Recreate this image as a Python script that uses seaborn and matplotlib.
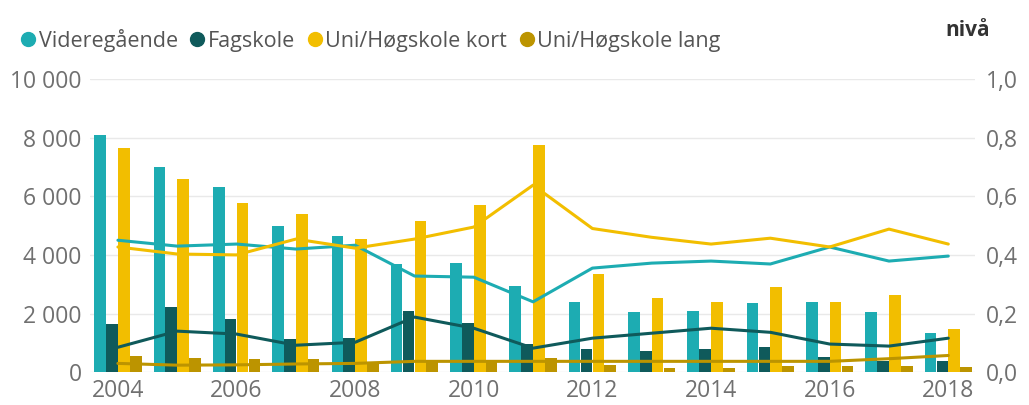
import matplotlib
matplotlib.use('Agg')
import matplotlib.pyplot as plt
from matplotlib.lines import Line2D
from matplotlib.ticker import FuncFormatter, MultipleLocator
import pandas as pd
import seaborn as sns

years = list(range(2004, 2019))
groups = ['Videregående', 'Fagskole', 'Uni/Høgskole kort', 'Uni/Høgskole lang']
colors = ['#1DACB2', '#0F5A5B', '#F2BE00', '#BC9400']

# antall (venstre akse)
vgs_antall = [8100, 7000, 6310, 4980, 4640, 3690, 3720, 2930, 2390, 2050, 2080, 2360, 2390, 2050, 1330]
fag_antall = [1640, 2220, 1810, 1130, 1160, 2080, 1670, 960, 790, 720, 790, 860, 510, 380, 380]
kort_antall = [7650, 6590, 5770, 5390, 4540, 5150, 5700, 7750, 3340, 2530, 2390, 2900, 2390, 2630, 1470]
lang_antall = [546, 480, 460, 440, 340, 350, 350, 480, 240, 140, 140, 200, 200, 200, 170]

# nivå (høyre akse)
vgs_niva = [0.45, 0.43, 0.437, 0.42, 0.433, 0.328, 0.324, 0.24, 0.355, 0.372, 0.379, 0.369, 0.427, 0.379, 0.396]
fag_niva = [0.085, 0.14, 0.13, 0.092, 0.102, 0.188, 0.15, 0.082, 0.116, 0.133, 0.15, 0.136, 0.096, 0.089, 0.116]
kort_niva = [0.427, 0.403, 0.40, 0.454, 0.423, 0.454, 0.495, 0.638, 0.49, 0.46, 0.437, 0.457, 0.427, 0.488, 0.437]
lang_niva = [0.03, 0.024, 0.025, 0.028, 0.03, 0.037, 0.037, 0.037, 0.037, 0.037, 0.037, 0.037, 0.037, 0.046, 0.057]

sns.set_style('white')
plt.rcParams['font.family'] = ['Open Sans', 'DejaVu Sans']

TEXT = '#707070'


def make_long(series, col):
    rows = []
    for g, vals in zip(groups, series):
        for y, v in zip(years, vals):
            rows.append({'year': y, 'gruppe': g, col: v})
    return pd.DataFrame(rows)


def main():
    bars = make_long([vgs_antall, fag_antall, kort_antall, lang_antall], 'antall')
    lines = make_long([vgs_niva, fag_niva, kort_niva, lang_niva], 'niva')

    fig = plt.figure(figsize=(10.29, 4.05), dpi=100)
    ax = fig.add_axes([0.0875, 0.081, 0.86, 0.724])

    sns.barplot(data=bars, x='year', y='antall', hue='gruppe', hue_order=groups,
                palette=colors, native_scale=True, width=0.8, gap=0.02,
                errorbar=None, legend=False, ax=ax, saturation=1, linewidth=0)

    ax2 = ax.twinx()
    sns.lineplot(data=lines, x='year', y='niva', hue='gruppe', hue_order=groups,
                 palette=colors, linewidth=2.2, legend=False, ax=ax2)

    ax.set_ylim(0, 10000)
    ax2.set_ylim(0, 1.0)
    ax.set_xlim(2003.53, 2018.45)
    ax.yaxis.set_major_locator(MultipleLocator(2000))
    ax2.yaxis.set_major_locator(MultipleLocator(0.2))
    ax.set_xticks(list(range(2004, 2019, 2)))

    ax.yaxis.set_major_formatter(FuncFormatter(lambda v, p: f'{int(v):,}'.replace(',', ' ')))
    ax2.yaxis.set_major_formatter(FuncFormatter(lambda v, p: f'{v:.1f}'.replace('.', ',')))

    ax.yaxis.grid(True, color='#e9e9e9', linewidth=1)
    ax.set_axisbelow(True)
    ax2.grid(False)

    for a in (ax, ax2):
        for s in a.spines.values():
            s.set_visible(False)
        a.tick_params(length=0, labelsize=16.5, colors=TEXT)
        a.set_xlabel('')
        a.set_ylabel('')
    ax.tick_params(axis='y', pad=6)
    ax2.tick_params(axis='y', pad=8)
    ax.tick_params(axis='x', pad=5)

    handles = [Line2D([], [], marker='o', linestyle='', markersize=10, color=c) for c in colors]
    fig.legend(handles, groups, loc='upper left', bbox_to_anchor=(-0.002, 0.977), ncol=4,
               frameon=False, fontsize=15.5, handletextpad=0.0, columnspacing=0.4,
               handlelength=1.0, labelcolor='#555555')

    fig.text(0.962, 0.925, 'nivå', fontsize=15, fontweight='bold', color='#333333',
             ha='right', va='center')

    fig.savefig('out.png', dpi=100)


if __name__ == '__main__':
    main()
